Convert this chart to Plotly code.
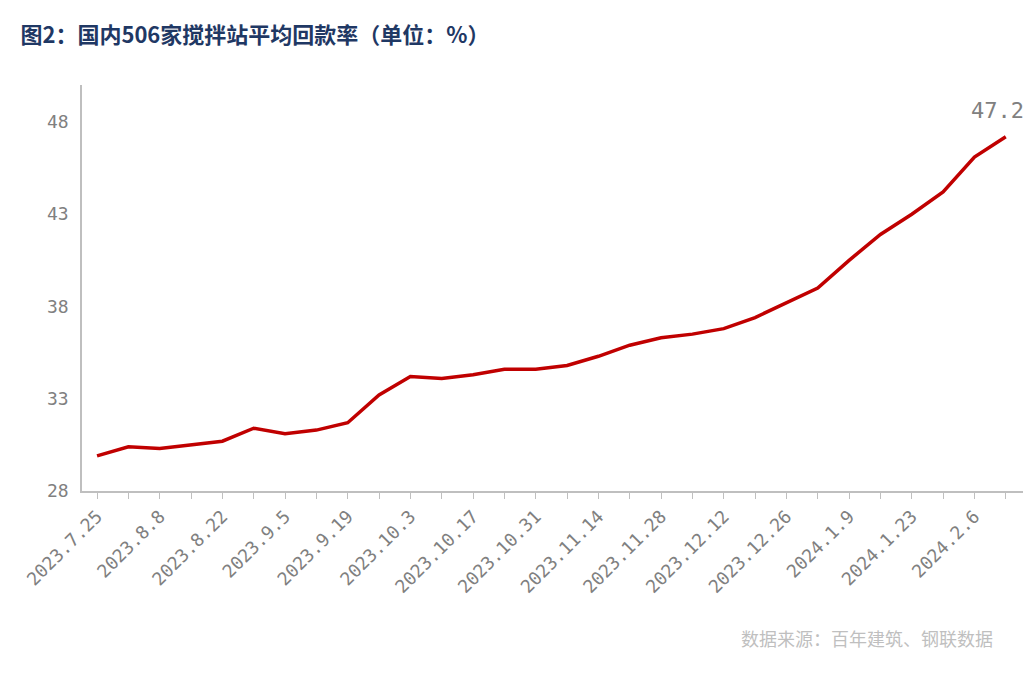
import plotly.graph_objects as go

dates = ["2023.7.25","2023.8.1","2023.8.8","2023.8.15","2023.8.22","2023.8.29","2023.9.5","2023.9.12",
         "2023.9.19","2023.9.26","2023.10.3","2023.10.10","2023.10.17","2023.10.24","2023.10.31","2023.11.7",
         "2023.11.14","2023.11.21","2023.11.28","2023.12.5","2023.12.12","2023.12.19","2023.12.26","2024.1.2",
         "2024.1.9","2024.1.16","2024.1.23","2024.1.30","2024.2.6","2024.2.13"]
values = [29.9,30.4,30.3,30.5,30.7,31.4,31.1,31.3,31.7,33.2,34.2,34.1,34.3,34.6,34.6,34.8,
          35.3,35.9,36.3,36.5,36.8,37.4,38.2,39.0,40.5,41.9,43.0,44.2,46.1,47.2]
y_ticks = [28,33,38,43,48]

x_idx = list(range(len(dates)))
tick_idx = x_idx[::2]
tick_text = dates[::2]
mono = "DejaVu Sans Mono"

fig = go.Figure()
fig.add_trace(go.Scatter(x=x_idx, y=values, mode="lines",
                         line=dict(color="#C00000", width=3.5), hoverinfo="skip"))
fig.add_annotation(x=x_idx[-1], y=values[-1], text=f"{values[-1]}", showarrow=False,
                   yshift=26, xshift=-8, font=dict(size=22, color="#808080", family=mono))
fig.update_layout(
    width=1036, height=673, plot_bgcolor="white", paper_bgcolor="white",
    margin=dict(l=74, r=21, t=77, b=190, autoexpand=False), showlegend=False,
    font=dict(family="Noto Sans CJK SC", color="#808080"),
    title=dict(text="<b>图2：国内506家搅拌站平均回款率（单位：%）</b>", x=0.012, y=0.96,
               xanchor="left", yanchor="middle", font=dict(size=22, color="#1F3864")),
    xaxis=dict(range=[-0.48, 29.55], tickmode="array", tickvals=tick_idx, ticktext=tick_text,
               tickangle=-45, tickfont=dict(size=18, color="#808080", family=mono), showgrid=False,
               showline=True, linecolor="#BFBFBF", linewidth=1.5, ticks="outside", automargin=False,
               ticklen=6, tickcolor="#BFBFBF", zeroline=False,
               minor=dict(tickmode="array", tickvals=x_idx, ticks="outside", ticklen=6, tickcolor="#BFBFBF")),
    yaxis=dict(range=[28, 50], tickvals=y_ticks, tickfont=dict(size=18, color="#808080", family=mono),
               showgrid=False, showline=True, linecolor="#BFBFBF", linewidth=1.5, zeroline=False,
               ticks="", ticklabelstandoff=8, automargin=False),
)
fig.add_annotation(text="数据来源：百年建筑、钢联数据", xref="paper", yref="paper", x=0.97, y=-0.4,
                   xanchor="right", showarrow=False, font=dict(size=18, color="#BFBFBF"))
fig.write_html("out.html")
